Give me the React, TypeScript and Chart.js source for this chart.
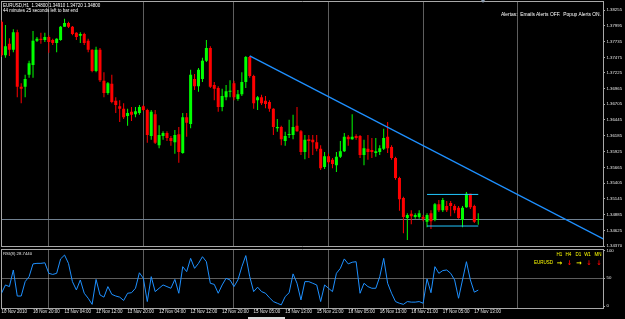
import React, { useEffect, useRef } from "react";
import { Chart, registerables } from "chart.js";

Chart.register(...registerables);

// ---------------- DATA ----------------
const opens = [
  1.3806, 1.3751, 1.3770, 1.3760, 1.3789, 1.3699, 1.3699, 1.3719, 1.3735, 1.3775,
  1.3778, 1.3776, 1.3781, 1.3776, 1.3771, 1.3776, 1.3798, 1.3804, 1.3798, 1.3788,
  1.3783, 1.3786, 1.3775, 1.3760, 1.3725, 1.3760, 1.3709, 1.3689, 1.3704, 1.3676,
  1.3667, 1.3663, 1.3651, 1.3658, 1.3654, 1.3656, 1.3667, 1.3661, 1.3618, 1.3654,
  1.3603, 1.3618, 1.3623, 1.3615, 1.3608, 1.3621, 1.3590, 1.3649, 1.3638, 1.3712,
  1.3700, 1.3712, 1.3742, 1.3763, 1.3702, 1.3697, 1.3666, 1.3682, 1.3691, 1.3705,
  1.3679, 1.3687, 1.3707, 1.3748, 1.3717, 1.3677, 1.3682, 1.3676, 1.3674, 1.3663,
  1.3631, 1.3633, 1.3610, 1.3620, 1.3620, 1.3635, 1.3626, 1.3592, 1.3613, 1.3612,
  1.3608, 1.3597, 1.3567, 1.3585, 1.3579, 1.3570, 1.3584, 1.3593, 1.3617, 1.3613,
  1.3618, 1.3618, 1.3587, 1.3597, 1.3595, 1.3590, 1.3592, 1.3597, 1.3617, 1.3600,
  1.3582, 1.3549, 1.3516, 1.3483, 1.3490, 1.3485, 1.3485, 1.3485, 1.3477, 1.3491,
  1.3480, 1.3506, 1.3496, 1.3503, 1.3508, 1.3503, 1.3500, 1.3480, 1.3501, 1.3523,
  1.3503, 1.3480,
];
const highs = [
  1.3809, 1.3801, 1.3779, 1.3794, 1.3793, 1.3705, 1.3719, 1.3742, 1.3791, 1.3781,
  1.3788, 1.3788, 1.3784, 1.3778, 1.3779, 1.3799, 1.3811, 1.3806, 1.3799, 1.3789,
  1.3789, 1.3788, 1.3778, 1.3761, 1.3765, 1.3763, 1.3723, 1.3707, 1.3719, 1.3682,
  1.3677, 1.3672, 1.3663, 1.3666, 1.3666, 1.3669, 1.3669, 1.3663, 1.3661, 1.3661,
  1.3636, 1.3626, 1.3626, 1.3618, 1.3628, 1.3633, 1.3656, 1.3656, 1.3727, 1.3720,
  1.3730, 1.3747, 1.3776, 1.3766, 1.3707, 1.3700, 1.3696, 1.3702, 1.3710, 1.3709,
  1.3694, 1.3723, 1.3750, 1.3750, 1.3719, 1.3684, 1.3686, 1.3684, 1.3677, 1.3664,
  1.3646, 1.3635, 1.3625, 1.3645, 1.3653, 1.3666, 1.3628, 1.3620, 1.3620, 1.3620,
  1.3620, 1.3603, 1.3592, 1.3589, 1.3582, 1.3592, 1.3610, 1.3623, 1.3620, 1.3654,
  1.3621, 1.3620, 1.3612, 1.3620, 1.3615, 1.3615, 1.3603, 1.3630, 1.3641, 1.3603,
  1.3584, 1.3551, 1.3518, 1.3491, 1.3496, 1.3491, 1.3496, 1.3488, 1.3491, 1.3496,
  1.3508, 1.3513, 1.3516, 1.3511, 1.3511, 1.3506, 1.3503, 1.3503, 1.3526, 1.3523,
  1.3505, 1.3491,
];
const lows = [
  1.3748, 1.3747, 1.3750, 1.3756, 1.3682, 1.3672, 1.3682, 1.3714, 1.3714, 1.3773,
  1.3770, 1.3773, 1.3755, 1.3768, 1.3756, 1.3775, 1.3798, 1.3796, 1.3784, 1.3776,
  1.3771, 1.3768, 1.3756, 1.3723, 1.3723, 1.3707, 1.3682, 1.3686, 1.3672, 1.3656,
  1.3641, 1.3646, 1.3635, 1.3643, 1.3649, 1.3653, 1.3659, 1.3607, 1.3612, 1.3605,
  1.3598, 1.3612, 1.3610, 1.3602, 1.3589, 1.3574, 1.3589, 1.3617, 1.3631, 1.3694,
  1.3691, 1.3707, 1.3740, 1.3697, 1.3677, 1.3658, 1.3659, 1.3677, 1.3682, 1.3677,
  1.3676, 1.3684, 1.3697, 1.3714, 1.3663, 1.3661, 1.3669, 1.3664, 1.3658, 1.3620,
  1.3625, 1.3603, 1.3602, 1.3615, 1.3613, 1.3625, 1.3587, 1.3580, 1.3582, 1.3587,
  1.3593, 1.3562, 1.3564, 1.3572, 1.3565, 1.3559, 1.3582, 1.3592, 1.3602, 1.3612,
  1.3612, 1.3582, 1.3570, 1.3579, 1.3582, 1.3584, 1.3587, 1.3595, 1.3590, 1.3579,
  1.3546, 1.3495, 1.3458, 1.3447, 1.3473, 1.3482, 1.3482, 1.3478, 1.3468, 1.3465,
  1.3478, 1.3493, 1.3493, 1.3493, 1.3486, 1.3491, 1.3482, 1.3468, 1.3500, 1.3498,
  1.3475, 1.3472,
];
const closes = [
  1.3751, 1.3766, 1.3760, 1.3789, 1.3699, 1.3696, 1.3712, 1.3738, 1.3775, 1.3778,
  1.3776, 1.3781, 1.3773, 1.3771, 1.3778, 1.3798, 1.3804, 1.3798, 1.3786, 1.3781,
  1.3786, 1.3771, 1.3760, 1.3725, 1.3760, 1.3710, 1.3689, 1.3705, 1.3674, 1.3669,
  1.3663, 1.3649, 1.3656, 1.3653, 1.3659, 1.3666, 1.3661, 1.3620, 1.3658, 1.3607,
  1.3620, 1.3623, 1.3615, 1.3610, 1.3620, 1.3592, 1.3649, 1.3640, 1.3719, 1.3700,
  1.3727, 1.3742, 1.3763, 1.3699, 1.3696, 1.3666, 1.3684, 1.3692, 1.3692, 1.3682,
  1.3687, 1.3707, 1.3748, 1.3717, 1.3672, 1.3682, 1.3672, 1.3671, 1.3663, 1.3633,
  1.3633, 1.3613, 1.3618, 1.3621, 1.3633, 1.3626, 1.3592, 1.3612, 1.3610, 1.3608,
  1.3597, 1.3565, 1.3585, 1.3575, 1.3572, 1.3584, 1.3593, 1.3617, 1.3613, 1.3617,
  1.3615, 1.3587, 1.3598, 1.3592, 1.3592, 1.3593, 1.3598, 1.3615, 1.3598, 1.3582,
  1.3549, 1.3514, 1.3485, 1.3488, 1.3486, 1.3488, 1.3491, 1.3482, 1.3488, 1.3478,
  1.3506, 1.3496, 1.3513, 1.3496, 1.3503, 1.3496, 1.3483, 1.3500, 1.3523, 1.3501,
  1.3477, 1.3480,
];
const rsiValues = [
  23, 38, 35, 65, 18, 18, 44, 53, 76, 77,
  77, 78, 59, 57, 59, 85, 92, 77, 44, 29,
  47, 23, 14, 3, 48, 20, 16, 35, 21, 18,
  16, 10, 23, 24, 32, 60, 50, 8, 53, 26,
  32, 38, 35, 32, 48, 23, 71, 62, 86, 68,
  77, 89, 80, 41, 39, 23, 38, 50, 47, 35,
  47, 71, 91, 53, 26, 34, 26, 23, 15, 8,
  5, 2, 17, 24, 58, 41, 11, 44, 44, 41,
  38, 8, 38, 32, 26, 59, 68, 85, 76, 79,
  80, 23, 41, 35, 32, 32, 53, 86, 41, 23,
  8, 5, 3, 8, 7, 7, 8, 5, 49, 24,
  71, 59, 64, 65, 59, 47, 14, 47, 80, 47,
  25, 28.744,
];
const priceTicks = [
  1.38255, 1.37995, 1.37735, 1.37475, 1.37225, 1.36965, 1.36705, 1.36445,
  1.36185, 1.35925, 1.35665, 1.35405, 1.35145, 1.34885, 1.34625, 1.3437,
];
const rsiTicks = [0, 50, 100];
const timeLabels = [
  "10 Nov 2010", "10 Nov 20:00", "11 Nov 04:00", "11 Nov 12:00", "11 Nov 20:00",
  "12 Nov 04:00", "12 Nov 12:00", "12 Nov 20:00", "15 Nov 05:00", "15 Nov 13:00",
  "15 Nov 21:00", "16 Nov 05:00", "16 Nov 13:00", "16 Nov 21:00", "17 Nov 05:00",
  "17 Nov 13:00",
];
const timeLabelBars = [1, 9, 17, 25, 33, 41, 49, 57, 65, 73, 81, 89, 97, 105, 113, 121];
const gridBars = [12, 36, 59, 83, 107, 131];
const trendBars = [63, 153];
const trendPrices = [1.375, 1.3448];
const boxBars = [108, 121];
const boxTop = 1.3522;
const boxBottom = 1.347;
const bidPrice = 1.348;
const rsiLevel = 50;
const headerText = "EURUSD,H1  1.34800 1.34910 1.34720 1.34800";
const timerText = "44 minutes 25 seconds left to bar end";
const alertText = "Alertas:  Emails Alerts OFF.  Popup Alerts ON.";
const rsiLabel = "RSI(8) 28.7440";
const symbolText = "EURUSD";
const tfLabels = ["H1", "H4", "D1", "W1", "MN"];
const tfSignals = ["right", "down", "right", "down", "down"];

// ---------------- STYLE / LAYOUT ----------------
const FONT = "'Liberation Sans', Arial, sans-serif";
const BULL = "#00FF00";
const BEAR = "#FF0000";
const FRAME = "#A8A8A8";
const GRID = "#BBBBBB";
const TEXT = "#E6E6E6";
const X_MIN = 0;
const X_MAX = 152.66;
const P_MIN = 1.34363;
const P_MAX = 1.38395;
const R_MIN = -4.5;
const R_MAX = 102;
const tickFont = { family: FONT, size: 4.3 };
const timeFont = { family: FONT, size: 4.5 };

const zeroPad = (s: any) => {
  s.paddingTop = 0;
  s.paddingBottom = 0;
  s.paddingLeft = 0;
  s.paddingRight = 0;
};

const frameAxes = () => ({
  xTop: {
    type: "linear", axis: "x", position: "top", min: X_MIN, max: X_MAX, offset: false,
    grid: { display: false, drawTicks: false, offset: false },
    border: { display: true, color: FRAME },
    ticks: { display: false },
    afterFit: (s: any) => { s.height = 0; zeroPad(s); },
  },
  yLeft: {
    type: "linear", axis: "y", position: "left", offset: false,
    grid: { display: false, drawTicks: false },
    border: { display: true, color: FRAME },
    ticks: { display: false },
    afterFit: (s: any) => { s.width = 0; zeroPad(s); },
  },
});

function mainConfig(): any {
  const colors = closes.map((c, i) => (c >= opens[i] ? BULL : BEAR));
  return {
    type: "bar",
    data: {
      datasets: [
        {
          type: "bar",
          data: lows.map((l, i) => ({ x: i, y: [l, highs[i]] })),
          backgroundColor: colors,
          barThickness: 1,
          grouped: false,
          inflateAmount: 0,
          order: 3,
          clip: 0,
          xAxisID: "x",
          yAxisID: "y",
        },
        {
          type: "bar",
          data: opens.map((o, i) => ({ x: i, y: [o, closes[i]] })),
          backgroundColor: colors,
          barThickness: 3,
          minBarLength: 1,
          grouped: false,
          inflateAmount: 0,
          order: 2,
          clip: 0,
          xAxisID: "x",
          yAxisID: "y",
        },
        {
          type: "line",
          data: trendBars.map((b, k) => ({ x: b, y: trendPrices[k] })),
          borderColor: "#1E90FF",
          borderWidth: 1.3,
          pointRadius: 0,
          tension: 0,
          order: 1,
          xAxisID: "x",
          yAxisID: "y",
        },
        {
          type: "line",
          data: boxBars.map((b) => ({ x: b, y: boxTop })),
          borderColor: "#22C8FF",
          borderWidth: 1,
          pointRadius: 0,
          order: 1,
          xAxisID: "x",
          yAxisID: "y",
        },
        {
          type: "line",
          data: boxBars.map((b) => ({ x: b, y: boxBottom })),
          borderColor: "#22C8FF",
          borderWidth: 1,
          pointRadius: 0,
          order: 1,
          xAxisID: "x",
          yAxisID: "y",
        },
      ],
    },
    options: {
      animation: false,
      responsive: false,
      maintainAspectRatio: false,
      events: [],
      layout: { padding: { left: 1.5, top: 1.5, right: 0, bottom: 2.5 } },
      plugins: { legend: { display: false }, tooltip: { enabled: false } },
      scales: {
        x: {
          type: "linear", axis: "x", position: "bottom", min: X_MIN, max: X_MAX, offset: false,
          grid: { display: true, drawOnChartArea: true, drawTicks: false, color: GRID, lineWidth: 1, offset: false },
          border: { display: true, color: FRAME, dash: [1, 1] },
          ticks: { display: false },
          afterBuildTicks: (s: any) => { s.ticks = gridBars.map((v) => ({ value: v })); },
          afterFit: (s: any) => { s.height = 0; zeroPad(s); },
        },
        ...frameAxes(),
        yBid: {
          type: "linear", axis: "y", position: "right", min: P_MIN, max: P_MAX, weight: 0, offset: false,
          grid: { drawOnChartArea: true, drawTicks: false, color: "#708090", lineWidth: 1 },
          border: { display: false },
          ticks: {
            color: "#000000", font: tickFont, padding: 2.5, autoSkip: false,
            showLabelBackdrop: true, backdropColor: "#FFFFFF",
            backdropPadding: { top: 0.6, bottom: 0.4, left: 1, right: 3 },
            callback: (v: any) => Number(v).toFixed(5),
          },
          afterBuildTicks: (s: any) => { s.ticks = [{ value: bidPrice }]; },
          afterFit: (s: any) => { s.width = 0; zeroPad(s); },
        },
        y: {
          type: "linear", axis: "y", position: "right", min: P_MIN, max: P_MAX, weight: 1, offset: false,
          grid: { drawOnChartArea: false, drawTicks: true, tickLength: 2, tickColor: FRAME },
          border: { display: true, color: FRAME },
          ticks: {
            color: TEXT, font: tickFont, padding: 1.5, autoSkip: false,
            callback: (v: any) => Number(v).toFixed(5),
          },
          afterBuildTicks: (s: any) => { s.ticks = priceTicks.map((v) => ({ value: v })); },
          afterFit: (s: any) => { s.width = 22; zeroPad(s); },
        },
      },
    },
  };
}

function rsiConfig(): any {
  return {
    type: "line",
    data: {
      datasets: [
        {
          data: rsiValues.map((v, i) => ({ x: i, y: v })),
          borderColor: "#1E90FF",
          borderWidth: 1,
          pointRadius: 0,
          tension: 0,
          xAxisID: "x",
          yAxisID: "y",
        },
      ],
    },
    options: {
      animation: false,
      responsive: false,
      maintainAspectRatio: false,
      events: [],
      layout: { padding: { left: 1.5, top: 1.5, right: 0, bottom: 0 } },
      plugins: { legend: { display: false }, tooltip: { enabled: false } },
      scales: {
        xGrid: {
          type: "linear", axis: "x", position: "bottom", min: X_MIN, max: X_MAX, weight: 0, offset: false,
          grid: { display: true, drawOnChartArea: true, drawTicks: false, color: GRID, lineWidth: 1, offset: false },
          border: { display: false, dash: [1, 1] },
          ticks: { display: false },
          afterBuildTicks: (s: any) => { s.ticks = gridBars.map((v) => ({ value: v })); },
          afterFit: (s: any) => { s.height = 0; zeroPad(s); },
        },
        x: {
          type: "linear", axis: "x", position: "bottom", min: X_MIN, max: X_MAX, weight: 1, offset: false,
          grid: { drawOnChartArea: false, drawTicks: true, tickLength: 2, tickColor: FRAME, offset: false },
          border: { display: true, color: FRAME },
          ticks: {
            color: TEXT, font: timeFont, padding: -1, align: "start", labelOffset: -4,
            maxRotation: 0, minRotation: 0, autoSkip: false,
            callback: (v: any) => {
              const k = timeLabelBars.indexOf(Number(v));
              return k >= 0 ? timeLabels[k] : "";
            },
          },
          afterBuildTicks: (s: any) => { s.ticks = timeLabelBars.map((v) => ({ value: v })); },
          afterFit: (s: any) => { s.height = 10.5; zeroPad(s); },
        },
        ...frameAxes(),
        y: {
          type: "linear", axis: "y", position: "right", min: R_MIN, max: R_MAX, offset: false,
          grid: {
            drawOnChartArea: true, drawTicks: true, tickLength: 2, tickColor: FRAME,
            color: (c: any) => (c.tick && c.tick.value === rsiLevel ? GRID : "rgba(0,0,0,0)"),
          },
          border: { display: true, color: FRAME, dash: [1, 1] },
          ticks: { color: TEXT, font: tickFont, padding: 1.5, autoSkip: false, callback: (v: any) => String(v) },
          afterBuildTicks: (s: any) => { s.ticks = rsiTicks.map((v) => ({ value: v })); },
          afterFit: (s: any) => { s.width = 22; zeroPad(s); },
        },
      },
    },
  };
}

const txt = (extra: any): any => ({
  position: "absolute",
  lineHeight: 1,
  whiteSpace: "pre",
  fontFamily: FONT,
  ...extra,
});

export default function App() {
  const mainRef = useRef<HTMLCanvasElement>(null);
  const rsiRef = useRef<HTMLCanvasElement>(null);

  useEffect(() => {
    document.body.style.margin = "0";
    document.body.style.background = "#000";
    const main = new Chart(mainRef.current as HTMLCanvasElement, mainConfig());
    const rsi = new Chart(rsiRef.current as HTMLCanvasElement, rsiConfig());
    return () => {
      main.destroy();
      rsi.destroy();
    };
  }, []);

  const tfX = [559.5, 568.5, 578.5, 587.5, 598];
  const arrowX = [559.5, 569.5, 579, 589, 599];

  return (
    <div style={{ position: "fixed", left: 0, top: 0, width: 625, height: 319, background: "#000", overflow: "hidden" }}>
      <canvas ref={mainRef} width={625} height={249} style={{ position: "absolute", left: 0, top: 0, width: 625, height: 249 }} />
      <canvas ref={rsiRef} width={625} height={71} style={{ position: "absolute", left: 0, top: 248, width: 625, height: 71 }} />

      <div style={txt({ left: 3, top: 3.5, fontSize: 4.5, color: "#FFFFFF" })}>{headerText}</div>
      <div style={txt({ left: 3, top: 8.5, fontSize: 4.5, color: "#FFFFFF" })}>{timerText}</div>
      <div style={txt({ right: 24, top: 13.3, fontSize: 4.9, color: "#FFFFFF" })}>{alertText}</div>
      <div style={{ position: "absolute", left: 481, top: 0, width: 0, height: 0, borderLeft: "2.5px solid transparent", borderRight: "2.5px solid transparent", borderTop: "3px solid #8A9BB0" }} />

      <div style={txt({ left: 3, top: 252, fontSize: 4.3, color: TEXT })}>{rsiLabel}</div>
      {tfLabels.map((t, k) => (
        <div key={t} style={txt({ left: tfX[k], top: 253, fontSize: 4.5, color: "#FFFF00", transform: "translateX(-50%)" })}>{t}</div>
      ))}
      <div style={txt({ left: 534, top: 261, fontSize: 4.5, color: "#FFFF00" })}>{symbolText}</div>
      {tfSignals.map((s, k) => (
        <div
          key={k}
          style={txt({
            left: arrowX[k], top: 259.5, fontSize: 6.5, fontWeight: "bold",
            fontFamily: "'DejaVu Sans', sans-serif",
            color: s === "right" ? "#FFFF00" : "#FF0000", transform: "translateX(-50%)",
          })}
        >
          {s === "right" ? "\u2192" : "\u2193"}
        </div>
      ))}
      <div style={{ position: "absolute", left: 248, top: 317, width: 37, height: 2, background: "#D8D8D8" }} />
    </div>
  );
}
